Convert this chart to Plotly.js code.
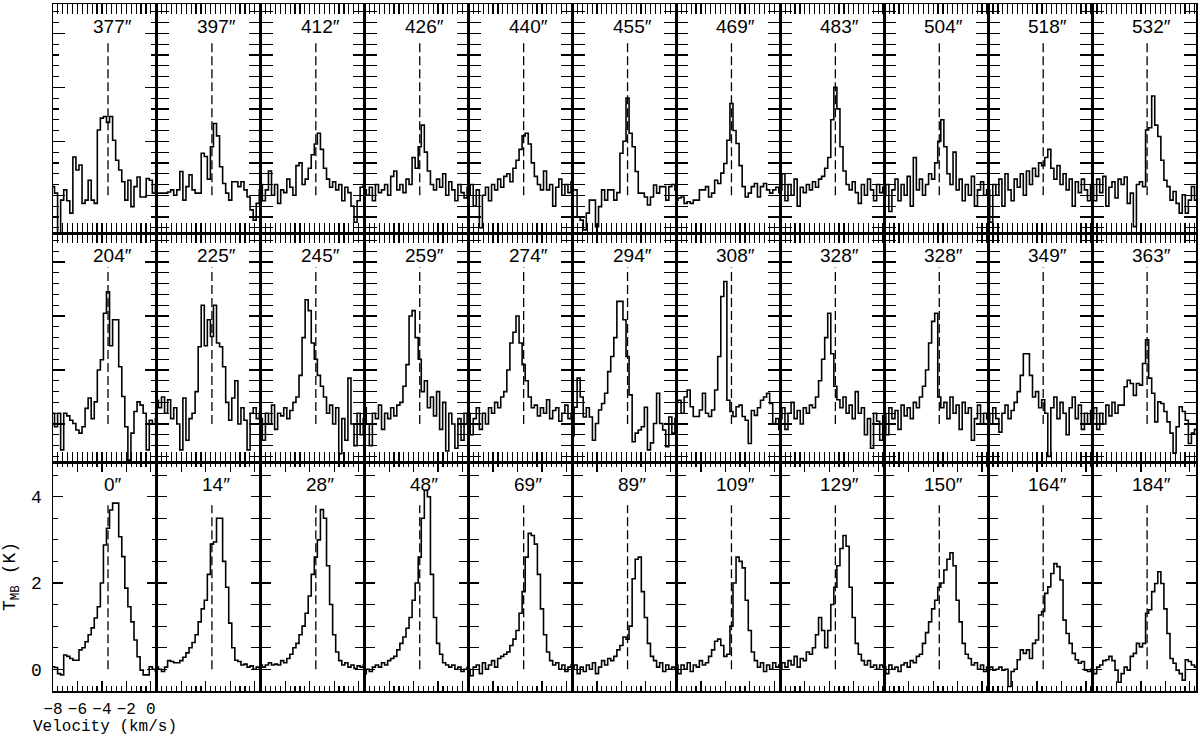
<!DOCTYPE html>
<html><head><meta charset="utf-8">
<script src="https://cdn.plot.ly/plotly-3.0.1.min.js"></script>
<style>html,body{margin:0;padding:0;background:#fff}</style>
</head><body><div id="chart" style="width:1200px;height:736px"></div>
<script>
// Velocity channels (km/s)
const velocity = [-8.0,-7.75,-7.5,-7.25,-7.0,-6.75,-6.5,-6.25,-6.0,-5.75,-5.5,-5.25,-5.0,-4.75,-4.5,-4.25,-4.0,-3.75,-3.5,-3.25,-3.0,-2.75,-2.5,-2.25,-2.0,-1.75,-1.5,-1.25,-1.0,-0.75,-0.5,-0.25,0.0,0.25,0.5];

// Bottom row spectra, T_MB (K)
const sp0   = [0.06,0.04,-0.1,-0.13,0.33,0.3,0.25,0.21,0.21,0.45, 0.5,0.64,0.8,0.96,1.19,1.45,2.0,2.88,3.27,3.69, 3.85,3.85,3.07,2.61,1.88,1.45,1.1,0.68,0.29,-0.02, -0.13,-0.13,0.06,0.0,-0.05];
const sp14  = [0.05,0.0,-0.05,0.05,0.2,0.18,0.15,0.15,0.2,0.28, 0.38,0.5,0.62,0.8,1.1,1.4,1.6,2.2,2.9,2.95, 3.5,3.5,2.5,1.9,1.07,0.5,0.21,0.18,0.1,0.12, 0.05,0.08,0.0,0.05,0.02];
const sp28  = [0.1,0.05,0.1,0.15,0.1,0.12,0.1,0.2,0.15,0.25, 0.35,0.5,0.6,0.8,1.0,1.3,1.7,2.2,2.6,3.0, 3.7,3.5,2.4,1.5,0.8,0.4,0.2,0.1,0.15,0.05, 0.1,0.02,0.08,0.05,0.1];
const sp48  = [-0.1,0.0,-0.05,0.05,0.1,0.05,0.15,0.1,0.2,0.25, 0.3,0.45,0.6,0.75,0.95,1.2,1.6,2.0,2.6,3.5, 4.15,4.0,2.2,1.2,0.6,0.35,0.15,0.1,0.05,0.1, 0.0,0.05,-0.05,0.0,0.05];
const sp69  = [0.0,-0.15,0.05,0.1,-0.1,0.15,0.0,0.1,0.2,0.05, 0.25,0.3,0.35,0.4,0.55,0.7,0.9,1.3,1.8,2.6, 3.15,3.1,2.9,2.2,1.4,0.8,0.4,0.2,0.1,0.15, 0.0,0.1,-0.05,0.05,0.1];
const sp89  = [0.0,0.1,-0.1,0.05,-0.05,0.1,0.0,0.15,-0.1,0.05, 0.2,0.1,0.25,0.2,0.3,0.45,0.55,0.75,0.7,1.0, 2.1,2.55,2.6,1.8,1.2,0.6,0.3,0.2,0.05,0.15, -0.05,0.1,0.0,0.05,0.0];
const sp109 = [0.1,-0.1,0.1,0.0,0.15,-0.05,0.1,0.05,0.2,0.1, 0.15,0.3,0.45,0.65,0.7,0.55,0.3,0.35,1.0,2.0, 2.6,2.5,2.35,1.6,0.9,0.4,0.2,0.05,0.15,-0.05, 0.1,0.0,0.15,0.05,0.1];
const sp129 = [0.0,0.15,0.05,0.2,0.1,0.3,0.05,0.25,0.2,0.4, 0.35,0.5,0.8,1.2,0.9,0.5,0.9,1.5,1.9,2.4, 2.8,3.1,2.85,1.9,1.2,0.6,0.35,0.2,0.1,0.2, 0.05,0.1,0.0,0.1,0.05];
const sp150 = [0.05,-0.1,0.1,0.0,0.05,-0.05,0.1,0.15,0.05,0.2, 0.15,0.3,0.35,0.6,0.85,1.1,1.4,1.6,1.9,2.0, 2.3,2.55,2.7,2.4,1.6,1.1,0.6,0.35,0.25,0.1, 0.15,0.0,0.1,-0.05,0.05];
const sp164 = [-0.02,0.05,-0.02,0.0,0.05,-0.02,0.0,-0.4,-0.05,0.0, 0.22,0.45,0.37,0.45,0.25,0.6,0.68,1.26,1.34,1.76, 1.91,2.22,2.45,2.38,2.07,1.14,0.83,0.6,0.37,0.22, 0.14,0.18,-0.02,-0.05,0.0];
const sp184 = [-0.02,-0.1,0.05,0.1,0.2,0.22,0.3,0.2,-0.02,-0.3, -0.1,0.05,-0.02,0.3,0.37,0.6,0.52,0.6,1.3,1.38, 1.8,1.99,2.26,1.99,1.4,0.83,0.25,0.14,-0.02,-0.1, -0.25,0.22,0.18,0.1,0.05];

// Middle row spectra
const sp204 = [0.2,-0.05,0.2,-0.48,0.2,0.15,0.07,0.01,-0.11,-0.17, -0.05,0.29,0.48,0.1,0.41,1.0,1.19,2.05,2.45,1.45, 1.93,1.93,1.06,0.51,-0.05,-0.67,-0.17,0.23,0.41,0.35, 0.2,-0.48,0.07,0.0,0.1];
const sp225 = [0.44,0.3,0.5,0.2,0.45,0.1,0.3,0.0,-0.48,0.48, -0.3,0.1,0.2,0.6,1.43,2.2,1.45,1.93,1.62,2.2, 1.5,1.43,1.06,0.4,0.07,0.48,0.8,0.0,0.3,0.07, -0.48,0.2,0.3,0.1,0.2];
const sp245 = [0.1,-0.3,0.2,0.0,0.35,-0.1,0.2,0.15,0.3,0.1, 0.25,0.4,0.5,0.9,1.6,2.3,2.1,1.5,1.2,0.9, 0.7,0.5,0.2,0.35,0.0,0.3,-0.55,0.1,-0.3,0.85, 0.0,-0.4,0.2,-0.2,0.1];
const sp259 = [0.3,0.0,-0.4,0.2,0.1,0.35,-0.1,0.2,0.1,0.3, 0.15,0.35,0.4,0.7,1.1,2.0,2.1,1.6,1.2,0.6, 0.8,0.3,0.5,0.15,0.6,-0.1,0.4,-0.5,0.2,0.0, -0.45,0.1,-0.3,0.2,0.0];
const sp274 = [0.2,-0.2,0.1,0.3,-0.1,0.2,0.0,0.3,0.2,0.4, 0.3,0.5,0.6,1.0,1.5,1.7,2.0,1.5,1.1,0.8, 0.5,0.3,0.35,0.15,0.3,0.2,0.45,0.1,0.25,0.3, 0.05,0.2,0.35,0.1,0.2];
const sp294 = [-0.22,0.31,0.85,0.5,0.13,0.3,0.13,-0.3,0.01,0.26, 0.38,0.57,0.97,1.25,1.6,2.27,2.27,1.93,1.25,0.54, -0.33,-0.17,-0.11,-0.05,0.31,-0.48,-0.35,0.01,0.57,0.01, -0.11,-0.42,0.13,-0.17,0.1];
const sp308 = [0.4,0.44,0.2,0.5,0.63,0.32,0.14,0.14,0.26,0.57, 0.2,0.14,0.26,0.63,1.25,2.36,2.64,0.44,0.23,0.14, 0.32,0.35,0.14,0.07,-0.36,0.25,0.16,0.3,0.44,0.5, 0.57,0.38,0.01,0.1,-0.1];
const sp328a = [0.1,0.3,-0.1,0.2,0.4,0.1,0.25,0.0,0.3,0.2, 0.35,0.3,0.5,0.8,1.2,1.6,2.05,1.3,0.7,0.45, 0.3,0.5,0.2,0.35,0.1,0.6,0.2,0.3,-0.2,0.1, -0.45,0.2,0.05,-0.3,0.15];
const sp328b = [0.2,-0.2,0.3,0.1,0.25,-0.1,0.35,0.15,0.3,0.1, 0.4,0.3,0.5,0.7,1.0,1.5,1.9,2.05,0.5,0.3, 0.4,0.1,0.5,0.2,0.35,-0.1,0.4,0.2,0.3,-0.3, 0.1,0.35,0.0,0.2,0.1];
const sp349 = [0.2,0.0,0.3,0.1,-0.15,0.2,0.35,0.1,0.25,0.4, 0.6,0.9,1.3,1.3,0.9,0.5,0.6,0.3,0.45,0.2, -0.6,0.3,0.5,0.1,0.4,0.2,-0.2,0.3,0.5,0.1, 0.35,-0.1,0.2,0.0,0.25];
const sp363 = [0.1,0.3,-0.1,0.2,0.0,0.35,0.15,0.4,0.2,0.35, 0.35,0.69,0.81,0.75,0.53,0.75,0.72,1.12,1.56,0.85, 0.57,0.04,0.41,0.38,0.23,0.04,-0.17,-0.54,-0.05,0.32, 0.23,0.07,-0.36,-0.17,-0.1];

// Top row spectra
const sp377 = [0.16,0.04,-0.7,-0.09,0.1,-0.1,-0.33,0.71,0.47,0.56, -0.15,-0.09,0.28,-0.09,-0.15,1.21,1.43,1.46,1.35,1.46, 1.02,0.65,0.47,0.25,-0.09,0.28,-0.21,0.16,0.34,-0.03, -0.03,0.31,0.28,0.04,0.2];
const sp397 = [0.04,0.04,0.04,0.04,0.06,0.1,0.0,0.1,0.44,-0.09, 0.16,0.38,0.1,0.04,0.04,0.78,0.72,0.3,0.9,1.33, 1.1,0.53,0.22,0.04,-0.09,0.25,0.25,0.16,0.25,0.1, -0.03,-0.27,-0.46,-0.15,0.1];
const sp412 = [0.2,-0.1,0.1,0.45,0.0,0.2,-0.15,0.1,0.05,0.3, 0.15,0.0,0.55,0.6,0.2,0.3,0.5,0.75,0.95,1.15, 0.85,0.5,0.3,0.15,0.25,0.1,0.2,-0.1,0.15,0.05, -0.2,-0.5,-0.1,0.15,0.2];
const sp426 = [0.1,0.0,0.15,-0.1,0.2,0.05,0.1,0.2,0.0,0.35, 0.45,0.1,0.2,0.05,0.3,0.2,0.7,0.5,0.9,1.3, 0.8,0.45,0.2,0.1,0.3,0.15,0.4,0.0,0.25,0.1, -0.1,0.2,0.05,-0.05,0.15];
const sp440 = [0.0,0.2,-0.2,0.1,-0.6,0.0,0.15,-0.1,0.2,0.1, 0.3,0.15,0.35,0.4,0.25,0.5,0.65,0.85,1.1,1.15, 0.95,0.6,0.35,0.2,0.1,0.45,0.1,0.2,-0.2,0.15, 0.3,0.0,0.2,0.05,0.25];
const sp455 = [0.1,0.1,-0.4,-0.46,-0.64,-0.33,-0.09,-0.09,-0.58,-0.21, 0.1,-0.09,0.1,0.1,-0.09,0.05,0.78,1.0,1.8,1.15, 0.9,0.44,0.04,0.04,-0.03,-0.18,-0.03,0.19,0.04,0.16, 0.16,-0.09,0.16,0.2,0.1];
const sp469 = [-0.09,-0.05,-0.03,-0.15,-0.12,-0.15,-0.09,-0.09,0.1,0.1, 0.16,-0.03,0.04,0.28,0.22,0.41,0.59,1.02,1.7,1.2, 0.96,0.55,0.16,-0.03,0.04,0.16,0.22,-0.03,0.16,0.22, 0.1,0.04,0.1,0.15,0.05];
const sp483 = [0.1,0.4,-0.1,0.2,0.0,0.3,-0.2,0.15,0.05,0.2, 0.1,0.25,0.15,0.3,0.35,0.5,0.7,1.4,2.0,1.6, 0.9,0.45,0.2,0.1,0.25,0.05,-0.15,0.2,0.0,0.3, 0.1,-0.1,0.2,0.05,0.15];
const sp504 = [0.0,0.2,-0.3,0.1,0.3,-0.1,0.2,0.0,0.35,-0.2, 0.7,0.1,0.3,0.0,0.2,0.4,0.3,0.6,1.0,1.4, 0.9,0.4,0.2,0.8,0.1,0.3,-0.1,0.2,0.0,0.35, -0.2,0.1,0.25,0.0,0.1];
const sp518 = [0.1,-0.5,0.2,0.0,0.3,-0.2,0.4,0.1,-0.1,0.3, 0.15,0.4,0.0,0.45,0.2,0.5,0.35,0.6,0.55,0.7, 0.85,0.5,0.3,0.55,0.2,0.4,0.1,0.3,-0.2,0.25, 0.05,0.3,0.1,-0.1,0.2];
const sp532 = [0.2,-0.1,0.3,0.05,0.35,-0.2,0.15,0.25,-0.05,0.3, 0.2,0.34,-0.15,0.04,-0.58,0.2,0.25,0.16,1.21,1.25, 1.84,1.3,1.09,0.65,0.28,0.16,-0.09,0.07,-0.15,-0.33, 0.01,-0.33,-0.09,0.16,-0.09];

// Panel offsets (labels)
const bottomLabels = ['0','14','28','48','69','89','109','129','150','164','184'];
const middleLabels = ['204','225','245','259','274','294','308','328','328','349','363'];
const topLabels    = ['377','397','412','426','440','455','469','483','504','518','532'];

const bottomSpectra = [sp0,sp14,sp28,sp48,sp69,sp89,sp109,sp129,sp150,sp164,sp184];
const middleSpectra = [sp204,sp225,sp245,sp259,sp274,sp294,sp308,sp328a,sp328b,sp349,sp363];
const topSpectra    = [sp377,sp397,sp412,sp426,sp440,sp455,sp469,sp483,sp504,sp518,sp532];

// Systemic velocity marker (dashed) and its height per row
const vsys = -3.5;
const dashTop = [3.8, 2.9, 2.85];

// ---------- layout ----------
const W = 1200, H = 736, ML = 53, MR = 4, MT = 4, MB = 45;
const PW = W - ML - MR, PH = H - MT - MB;
const NC = 11;
const MONO = '"Liberation Mono", "DejaVu Sans Mono", monospace';
const SANS = '"Liberation Sans", "DejaVu Sans", sans-serif';
const rows = [
  {labels: bottomLabels, spectra: bottomSpectra, range: [-0.503, 4.804], dtick: 2, minor: 0.5, len: 10, mlen: 5, labels_on: true},
  {labels: middleLabels, spectra: middleSpectra, range: [-0.704, 3.537], dtick: 1, minor: 0.2, len: 12, mlen: 6, labels_on: false},
  {labels: topLabels,    spectra: topSpectra,    range: [-0.698, 3.543], dtick: 1, minor: 0.2, len: 12, mlen: 6, labels_on: false}
];

const traces = [];
const annotations = [];
const layout = {
  width: W, height: H,
  margin: {l: ML, r: MR, t: MT, b: MB, pad: 0},
  paper_bgcolor: '#fff', plot_bgcolor: 'rgba(0,0,0,0)',
  showlegend: false,
  font: {family: MONO, color: '#000'}
};

for (let c = 0; c < NC; c++) {
  const key = c === 0 ? 'xaxis' : 'xaxis' + (c + 1);
  layout[key] = {
    domain: [c / NC, (c + 1) / NC],
    range: [-8, 0.5], anchor: 'y',
    showline: true, linecolor: '#000', linewidth: 1.5, mirror: 'allticks',
    ticks: 'inside', ticklen: 10, tickwidth: 1.2, tickcolor: '#000',
    tick0: 0, dtick: 2,
    minor: {ticks: 'inside', ticklen: 5, tickwidth: 1.2, tickcolor: '#000', tick0: 0, dtick: 0.4, showgrid: false},
    showgrid: false, zeroline: false,
    showticklabels: c === 0,
    ticklabelstandoff: 2,
    tickfont: {family: MONO, size: 16, color: '#000'},
    fixedrange: true
  };
}
rows.forEach((row, r) => {
  const key = r === 0 ? 'yaxis' : 'yaxis' + (r + 1);
  layout[key] = {
    domain: [r / 3, (r + 1) / 3],
    range: row.range, anchor: 'x',
    showline: true, linecolor: '#000', linewidth: 1.5, mirror: 'allticks',
    ticks: 'inside', ticklen: row.len, tickwidth: 1.2, tickcolor: '#000',
    tick0: 0, dtick: row.dtick,
    minor: {ticks: 'inside', ticklen: row.mlen, tickwidth: 1.2, tickcolor: '#000', tick0: 0, dtick: row.minor, showgrid: false},
    showgrid: false, zeroline: false,
    showticklabels: row.labels_on,
    ticklabelstandoff: 6,
    tickfont: {family: MONO, size: 18, color: '#000'},
    fixedrange: true
  };
  for (let c = 0; c < NC; c++) {
    const xa = c === 0 ? 'x' : 'x' + (c + 1);
    const ya = r === 0 ? 'y' : 'y' + (r + 1);
    traces.push({
      x: velocity, y: row.spectra[c], xaxis: xa, yaxis: ya,
      type: 'scatter', mode: 'lines',
      line: {shape: 'hvh', color: '#000', width: 1.6},
      hoverinfo: 'skip'
    });
    traces.push({
      x: [vsys, vsys], y: [0, dashTop[r]], xaxis: xa, yaxis: ya,
      type: 'scatter', mode: 'lines',
      line: {color: '#000', width: 1.3, dash: '9px,4px'},
      hoverinfo: 'skip'
    });
    // panel label
    const rowTopPx = MT + PH * (1 - (r + 1) / 3);
    const cx = (PW / NC * c + 59.5) / PW;
    const cy = (PH + MT - (rowTopPx + 22)) / PH;
    annotations.push({
      xref: 'paper', yref: 'paper', x: cx, y: cy,
      xanchor: 'center', yanchor: 'middle', showarrow: false,
      text: row.labels[c] + '\u2033',
      font: {family: SANS, size: 19, color: '#000'}
    });
  }
});

annotations.push({
  xref: 'paper', yref: 'paper', x: (105 - ML) / PW, y: (PH + MT - 727) / PH,
  xanchor: 'center', yanchor: 'middle', showarrow: false,
  text: 'Velocity (km/s)',
  font: {family: MONO, size: 16, color: '#000'}
});
annotations.push({
  xref: 'paper', yref: 'paper', x: (11 - ML) / PW, y: (PH + MT - 577) / PH,
  xanchor: 'center', yanchor: 'middle', showarrow: false, textangle: -90,
  text: 'T<sub>MB</sub> (K)',
  font: {family: MONO, size: 18, color: '#000'}
});
layout.annotations = annotations;

Plotly.newPlot('chart', traces, layout, {displayModeBar: false, staticPlot: true});
</script>
</body></html>
